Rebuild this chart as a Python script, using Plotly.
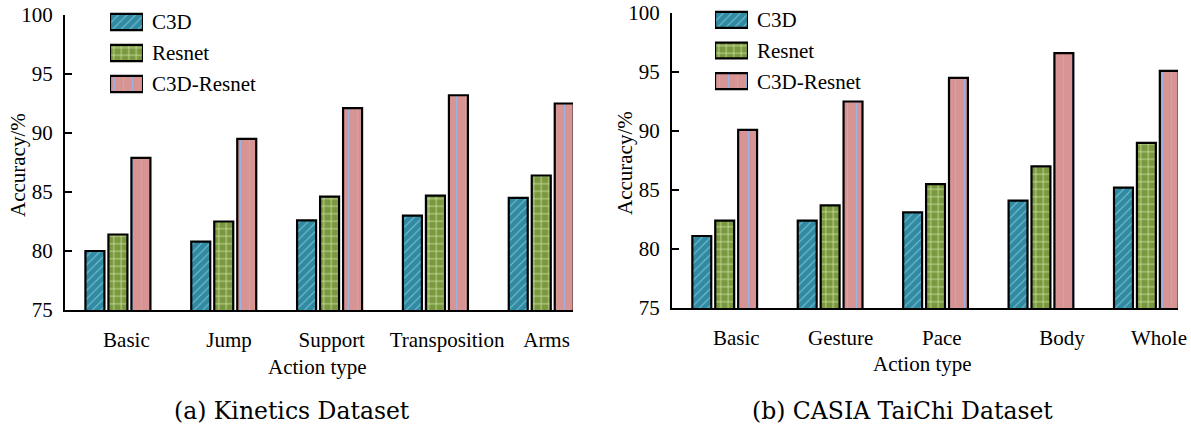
import plotly.graph_objects as go

# ---------------- data ----------------
series_names = ["C3D", "Resnet", "C3D-Resnet"]

kinetics_categories = ["Basic", "Jump", "Support", "Transposition", "Arms"]
kinetics_c3d = [80.0, 80.8, 82.6, 83.0, 84.5]
kinetics_resnet = [81.4, 82.5, 84.6, 84.7, 86.4]
kinetics_c3d_resnet = [87.9, 89.5, 92.1, 93.2, 92.5]

taichi_categories = ["Basic", "Gesture", "Pace", "Body", "Whole"]
taichi_c3d = [81.1, 82.4, 83.1, 84.1, 85.2]
taichi_resnet = [82.4, 83.7, 85.5, 87.0, 89.0]
taichi_c3d_resnet = [90.1, 92.5, 94.5, 96.6, 95.1]

y_ticks = [75, 80, 85, 90, 95, 100]

# ---------------- styles ----------------
W, H = 1191, 430
FONT = "Liberation Serif"
styles = [
    dict(color="#2f8aa2", fg="#7fc0d4", shape="/", size=6, solidity=0.18),
    dict(color="#7a9840", fg="#cfe4a2", shape="+", size=7.5, solidity=0.2),
    dict(color="#d89492", fg="#9bb4e4", shape="|", size=9, solidity=0.12),
]
# small horizontal nudges of tick labels (in category units), as in the original
kin_label_nudge = [0.08, 0.05, 0.02, 0.11, 0.05]
tai_label_nudge = [0.11, 0.10, 0.06, 0.20, 0.12]


def marker(st):
    return dict(
        color=st["color"],
        line=dict(color="black", width=2.2),
        pattern=dict(shape=st["shape"], fgcolor=st["fg"], bgcolor=st["color"], fgopacity=1,
                     size=st["size"], solidity=st["solidity"], fillmode="replace"),
    )


fig = go.Figure()

panels = [
    (kinetics_categories, [kinetics_c3d, kinetics_resnet, kinetics_c3d_resnet], "x", "y", "x3", "y3"),
    (taichi_categories, [taichi_c3d, taichi_resnet, taichi_c3d_resnet], "x2", "y2", "x4", "y4"),
]
for cats, vals, xa, ya, lxa, lya in panels:
    xs = list(range(len(cats)))
    for name, v, st in zip(series_names, vals, styles):
        fig.add_trace(go.Bar(x=xs, y=v, name=name, xaxis=xa, yaxis=ya,
                             marker=marker(st), showlegend=False))
        # legend swatch (key box) drawn on a small key axis
        fig.add_trace(go.Bar(x=[1], y=[name], orientation="h", name=name, xaxis=lxa, yaxis=lya,
                             width=0.52, offset=-0.26, marker=marker(st), showlegend=False,
                             hoverinfo="skip"))


def xaxis(domain, cats, nudge, anchor):
    return dict(
        domain=domain, range=[-0.5, 4.30], showgrid=False, zeroline=False, automargin=False,
        showline=True, linecolor="black", linewidth=2, ticks="", anchor=anchor,
        tickmode="array", tickvals=[i + n for i, n in enumerate(nudge)], ticktext=cats,
        tickfont=dict(family=FONT, size=21, color="black"), ticklabelstandoff=10,
    )


def yaxis(domain, anchor):
    return dict(
        domain=domain, range=[75, 100], showgrid=False, zeroline=False, automargin=False,
        showline=True, linecolor="black", linewidth=2, anchor=anchor,
        ticks="inside", ticklen=7, tickwidth=2, tickcolor="black",
        tickmode="array", tickvals=y_ticks,
        tickfont=dict(family=FONT, size=21, color="black"), ticklabelstandoff=6,
    )


def key_x(domain, anchor):
    return dict(domain=domain, range=[0, 1], visible=False, anchor=anchor,
                fixedrange=True, automargin=False)


def key_y(domain, anchor):
    return dict(domain=domain, range=[2.5, -0.5], type="category", anchor=anchor, side="right",
                showgrid=False, zeroline=False, showline=False, ticks="", automargin=False,
                categoryorder="array", categoryarray=series_names, fixedrange=True,
                tickfont=dict(family=FONT, size=21, color="black"), ticklabelstandoff=8)


def ann(text, x, y, size=21, family=FONT, angle=0):
    return dict(text=text, x=x / W, y=1 - y / H, xref="paper", yref="paper",
                xanchor="center", yanchor="middle", textangle=angle, showarrow=False,
                font=dict(family=family, size=size, color="black"))


fig.update_layout(
    width=W, height=H, margin=dict(l=0, r=0, t=0, b=0, autoexpand=False),
    paper_bgcolor="white", plot_bgcolor="rgba(0,0,0,0)",
    barmode="group", bargap=0.348, bargroupgap=0.174,
    xaxis=xaxis([65 / W, 573 / W], kinetics_categories, kin_label_nudge, "y"),
    yaxis=yaxis([1 - 310 / H, 1 - 15 / H], "x"),
    xaxis2=xaxis([672 / W, 1178 / W], taichi_categories, tai_label_nudge, "y2"),
    yaxis2=yaxis([1 - 308 / H, 1 - 13 / H], "x2"),
    xaxis3=key_x([110 / W, 143 / W], "y3"),
    yaxis3=key_y([1 - 99.5 / H, 1 - 6.5 / H], "x3"),
    xaxis4=key_x([715 / W, 748 / W], "y4"),
    yaxis4=key_y([1 - 96.5 / H, 1 - 4.5 / H], "x4"),
    showlegend=False,
    annotations=[
        ann("Accuracy/%", 18, 165, angle=-90),
        ann("Accuracy/%", 625, 163, angle=-90),
        ann("Action type", 317, 367),
        ann("Action type", 922, 364),
        ann("(a) Kinetics Dataset", 292, 411, size=23.5, family="DejaVu Serif"),
        ann("(b) CASIA TaiChi Dataset", 902, 411, size=23.5, family="DejaVu Serif"),
    ],
)

fig.write_html("out.html")
